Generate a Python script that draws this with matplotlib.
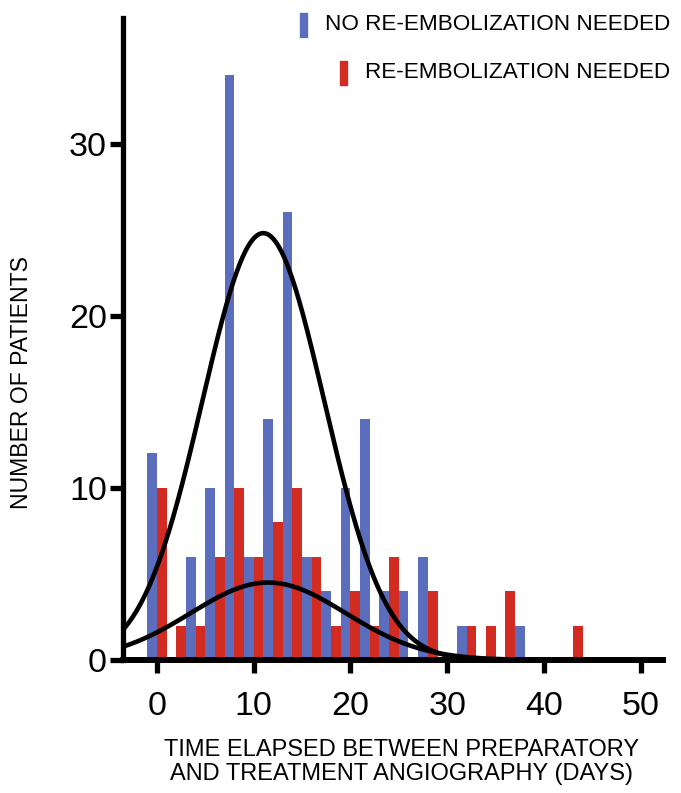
import numpy as np
import matplotlib
matplotlib.use("Agg")
import matplotlib.pyplot as plt
from matplotlib.patches import Rectangle

# ---- data ----
bin_days = [0, 2, 4, 6, 8, 10, 12, 14, 16, 18, 20, 22, 24, 26, 28, 30, 32, 34, 36, 38, 40, 42]
no_reemb = [12, 0, 6, 10, 34, 6, 14, 26, 6, 4, 10, 14, 4, 4, 6, 0, 2, 0, 0, 2, 0, 0]
red_days = [0, 2, 4, 6, 8, 10, 12, 14, 16, 18, 20, 22, 24, 26, 28, 30, 32, 34, 36, 38, 40, 43]
reemb = [10, 2, 2, 6, 10, 6, 8, 10, 6, 2, 4, 2, 6, 0, 4, 0, 2, 2, 4, 0, 0, 2]

# Gaussian fit curves: (amplitude, mean, sd)
fit_no_reemb = (24.8, 11.0, 6.3)
fit_reemb = (4.5, 11.5, 8.0)

x_ticks = [0, 10, 20, 30, 40, 50]
y_ticks = [0, 10, 20, 30]
legend_labels = ["NO RE-EMBOLIZATION NEEDED", "RE-EMBOLIZATION NEEDED"]
xlabel = "TIME ELAPSED BETWEEN PREPARATORY\nAND TREATMENT ANGIOGRAPHY (DAYS)"
ylabel = "NUMBER OF PATIENTS"

BLUE = "#5B6EBE"
RED = "#D22B22"

plt.rcParams['font.family'] = ['Liberation Sans', 'DejaVu Sans']

W, H = 681, 793
fig = plt.figure(figsize=(W / 100, H / 100), dpi=100)
ax = fig.add_axes([123 / W, (H - 660) / H, 540 / W, 642 / H])

ax.bar(np.array(bin_days) - 1, no_reemb, width=1.0, align='edge', color=BLUE, zorder=2)
ax.bar(np.array(red_days), reemb, width=1.0, align='edge', color=RED, zorder=2)

xs = np.linspace(-3.5, 40, 400)
for a, m, s in (fit_no_reemb, fit_reemb):
    ax.plot(xs, a * np.exp(-(xs - m) ** 2 / (2 * s ** 2)), color='black', lw=3.3,
            zorder=3, solid_capstyle='round')

ax.set_xlim(-3.5, 52.3)
ax.set_ylim(0, 37.3)
ax.set_xticks(x_ticks)
ax.set_yticks(y_ticks)
for sp in ('top', 'right'):
    ax.spines[sp].set_visible(False)
ax.spines['left'].set_linewidth(3.8)
ax.spines['bottom'].set_linewidth(4.3)
ax.spines['left'].set_zorder(4)
ax.spines['bottom'].set_zorder(4)
ax.tick_params(axis='both', direction='out', length=9.5, width=3.8, labelsize=24.5,
               colors='black')
ax.tick_params(axis='x', pad=13)
ax.tick_params(axis='y', pad=2)

fig.text(22 / W, 1 - 383 / H, ylabel, rotation=90, ha='center', va='center', fontsize=16.6)
fig.text(402 / W, 1 - 762 / H, xlabel, ha='center', va='center', fontsize=17.0,
         linespacing=1.12)

# legend: right-aligned text with small colour bars to the left
fig.canvas.draw()
renderer = fig.canvas.get_renderer()
for lab, col, yc in ((legend_labels[0], BLUE, 25), (legend_labels[1], RED, 73)):
    t = fig.text(670 / W, 1 - yc / H, lab, ha='right', va='center', fontsize=16.2)
    bb = t.get_window_extent(renderer=renderer)
    left = bb.x0 - 25
    fig.patches.append(Rectangle((left / W, (H - yc - 11.5) / H), 7 / W, 23 / H,
                                 transform=fig.transFigure, color=col, figure=fig))

fig.savefig("out.png", dpi=100)
